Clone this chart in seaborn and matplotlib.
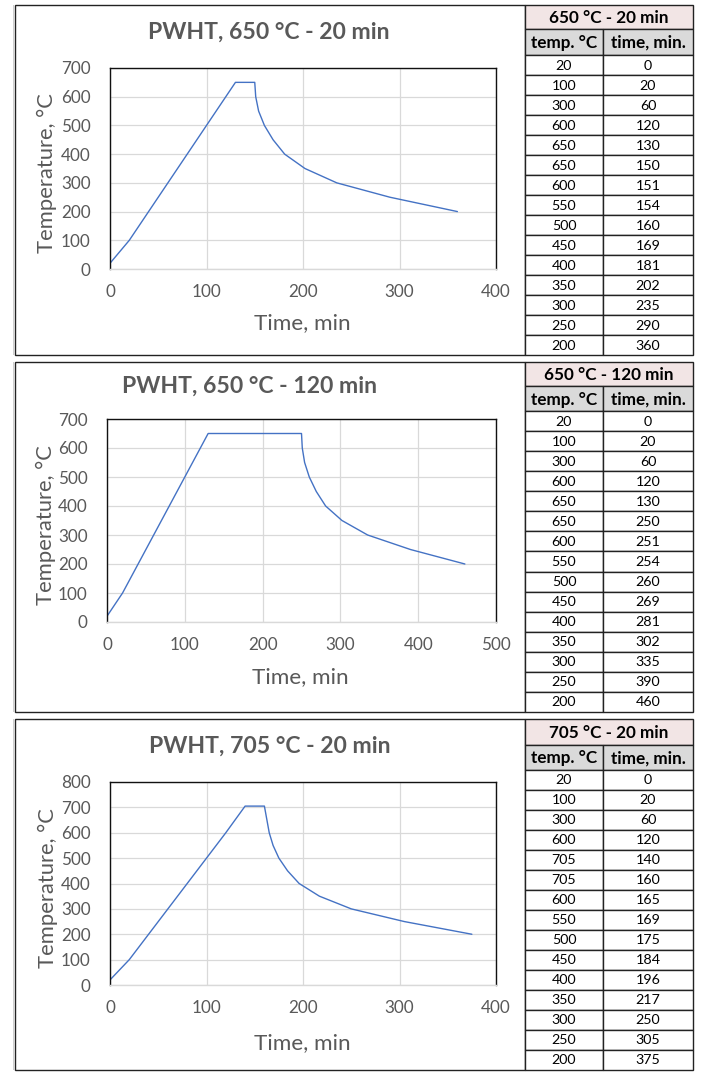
import matplotlib
matplotlib.use("Agg")
import matplotlib.pyplot as plt
import seaborn as sns
import pandas as pd
from matplotlib.patches import Rectangle

sns.set_theme(style="white")
plt.rcParams['font.family'] = ['Lato', 'DejaVu Sans']

# ---------------- data ----------------
titles = ["PWHT, 650 °C - 20 min", "PWHT, 650 °C - 120 min", "PWHT, 705 °C - 20 min"]
table_titles = ["650 °C - 20 min", "650 °C - 120 min", "705 °C - 20 min"]
col_headers = ["temp. °C", "time, min."]

temp_650 = [20, 100, 300, 600, 650, 650, 600, 550, 500, 450, 400, 350, 300, 250, 200]
time_650_20 = [0, 20, 60, 120, 130, 150, 151, 154, 160, 169, 181, 202, 235, 290, 360]
time_650_120 = [0, 20, 60, 120, 130, 250, 251, 254, 260, 269, 281, 302, 335, 390, 460]
temp_705 = [20, 100, 300, 600, 705, 705, 600, 550, 500, 450, 400, 350, 300, 250, 200]
time_705_20 = [0, 20, 60, 120, 140, 160, 165, 169, 175, 184, 196, 217, 250, 305, 375]

x_ticks = [[0, 100, 200, 300, 400], [0, 100, 200, 300, 400, 500], [0, 100, 200, 300, 400]]
y_ticks = [[0, 100, 200, 300, 400, 500, 600, 700],
           [0, 100, 200, 300, 400, 500, 600, 700],
           [0, 100, 200, 300, 400, 500, 600, 700, 800]]
x_label = "Time, min"
y_label = "Temperature, °C"

series = [(time_650_20, temp_650), (time_650_120, temp_650), (time_705_20, temp_705)]

# ---------------- layout (pixels) ----------------
W, H = 702, 1072
fig = plt.figure(figsize=(W / 100, H / 100), dpi=100)
fig.patch.set_facecolor("white")

bg = fig.add_axes([0, 0, 1, 1])
bg.set_xlim(0, W)
bg.set_ylim(H, 0)
bg.axis("off")

panels = [
    dict(top=5, bottom=355, ax=(110, 68, 496, 269), title_xy=(269, 32), ylab_x=47, xlab_y=323),
    dict(top=362, bottom=712, ax=(107, 419, 496, 622), title_xy=(250, 386), ylab_x=46, xlab_y=677),
    dict(top=719, bottom=1070, ax=(110, 782, 496, 985), title_xy=(270, 746), ylab_x=48, xlab_y=1043),
]
box_left, table_left, col_div, table_right = 15, 525, 603, 693

text_grey = "#595959"
line_col = "#4472C4"
grid_col = "#d9d9d9"
pink = "#f2e5e5"
grey_hdr = "#dadada"

for i, p in enumerate(panels):
    top, bottom = p["top"], p["bottom"]
    # chart box
    bg.add_patch(Rectangle((box_left - 2.5, top), 1.5, bottom - top, facecolor="#cfcfcf",
                           edgecolor="none"))
    bg.add_patch(Rectangle((box_left, top), table_left - box_left, bottom - top,
                           facecolor="white", edgecolor="#222222", linewidth=1.0))
    # table
    n = len(series[i][0])
    hdr1 = 24 if i < 2 else 26
    hdr2 = 26 if i == 0 else 25
    row_h = (bottom - (top + hdr1 + hdr2)) / n
    y0 = top
    bg.add_patch(Rectangle((table_left, y0), table_right - table_left, hdr1,
                           facecolor=pink, edgecolor="#222222", linewidth=1.0))
    bg.text((table_left + table_right) / 2, y0 + hdr1 / 2 + 1, table_titles[i],
            ha="center", va="center", fontsize=12.3, fontweight="bold", color="black")
    y1 = y0 + hdr1
    for c, (xa, xb) in enumerate([(table_left, col_div), (col_div, table_right)]):
        bg.add_patch(Rectangle((xa, y1), xb - xa, hdr2, facecolor=grey_hdr,
                               edgecolor="#222222", linewidth=1.0))
        bg.text((xa + xb) / 2, y1 + hdr2 / 2 + 1, col_headers[c], ha="center", va="center",
                fontsize=12.3, fontweight="bold", color="black")
    y2 = y1 + hdr2
    times, temps = series[i]
    for r in range(n):
        yy = y2 + r * row_h
        for c, (xa, xb) in enumerate([(table_left, col_div), (col_div, table_right)]):
            bg.add_patch(Rectangle((xa, yy), xb - xa, row_h, facecolor="white",
                                   edgecolor="#222222", linewidth=1.0))
            val = temps[r] if c == 0 else times[r]
            bg.text((xa + xb) / 2, yy + row_h / 2 + 0.5, str(val), ha="center", va="center",
                    fontsize=10.3, color="black")

    # chart axes
    l, t, r_, b = p["ax"]
    ax = fig.add_axes([l / W, 1 - b / H, (r_ - l) / W, (b - t) / H])
    df = pd.DataFrame({"time": times, "temp": temps})
    sns.lineplot(data=df, x="time", y="temp", ax=ax, color=line_col, linewidth=1.0,
                 sort=False, estimator=None)
    ax.set_xlim(x_ticks[i][0], x_ticks[i][-1])
    ax.set_ylim(y_ticks[i][0], y_ticks[i][-1])
    ax.set_xticks(x_ticks[i])
    ax.set_yticks(y_ticks[i])
    ax.grid(True, color=grid_col, linewidth=0.9)
    ax.set_axisbelow(True)
    ax.tick_params(axis="both", length=0, labelsize=12.3, colors=text_grey)
    ax.tick_params(axis="x", pad=11)
    ax.tick_params(axis="y", pad=14)
    for s in ["top", "left", "right"]:
        ax.spines[s].set_color("#111111")
        ax.spines[s].set_linewidth(1.0)
    ax.spines["bottom"].set_color(grid_col)
    ax.spines["bottom"].set_linewidth(1.0)
    ax.set_xlabel("")
    ax.set_ylabel("")

    bg.text(p["title_xy"][0], p["title_xy"][1], titles[i], ha="center", va="center",
            fontsize=16.6, fontweight="bold", color=text_grey)
    bg.text(p["ylab_x"], (t + b) / 2 + 5, y_label, ha="center", va="center", rotation=90,
            fontsize=15.8, color=text_grey)
    bg.text((l + r_) / 2 - 1, p["xlab_y"], x_label, ha="center", va="center",
            fontsize=16.2, color=text_grey)

fig.savefig("out.png", dpi=100, facecolor="white")
